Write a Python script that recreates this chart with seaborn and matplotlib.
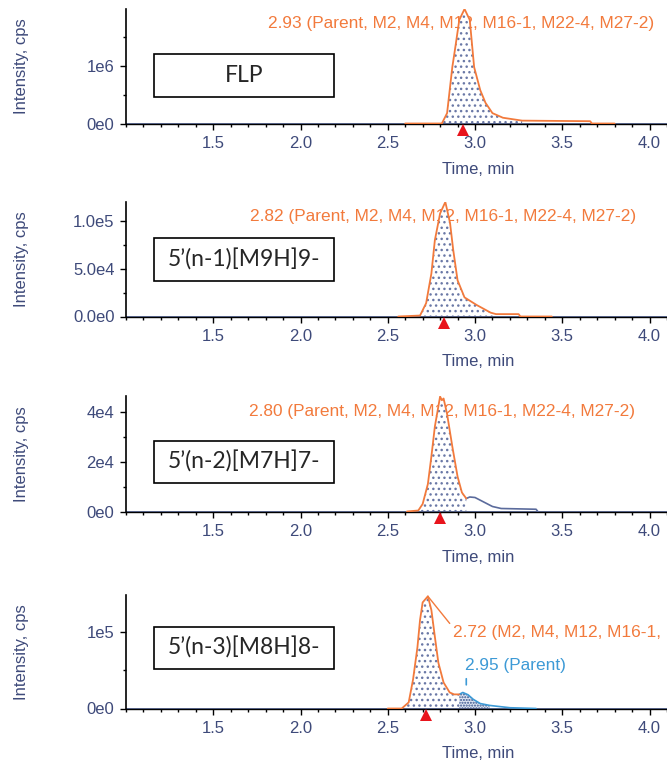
import matplotlib
matplotlib.use('Agg')
import matplotlib.pyplot as plt
import matplotlib.patches as mpatches
from matplotlib.ticker import MultipleLocator, FixedLocator
import numpy as np
import seaborn as sns

# labels and retention times
box_labels = ['FLP', '5\u2019(n-1)[M9H]9-', '5\u2019(n-2)[M7H]7-', '5\u2019(n-3)[M8H]8-']
peak_labels = ['2.93 (Parent, M2, M4, M12, M16-1, M22-4, M27-2)',
               '2.82 (Parent, M2, M4, M12, M16-1, M22-4, M27-2)',
               '2.80 (Parent, M2, M4, M12, M16-1, M22-4, M27-2)',
               '2.72 (M2, M4, M12, M16-1, M22-4, M27-2)']
peak_rt = [2.93, 2.82, 2.80, 2.72]
parent_label = '2.95 (Parent)'
parent_rt = 2.95

# FLP trace (cps)
flp_t = [2.60, 2.81, 2.84, 2.87, 2.885, 2.91, 2.94, 2.97, 2.995, 3.03, 3.06, 3.10, 3.16, 3.27, 3.66, 3.67, 3.80]
flp_i = [0, 0, 180000, 980000, 1280000, 1800000, 1990000, 1800000, 980000, 580000, 360000, 180000, 100000, 50000, 40000, 0, 0]

# 5'(n-1) trace
n1_t = [2.56, 2.685, 2.72, 2.75, 2.77, 2.80, 2.83, 2.857, 2.875, 2.90, 2.94, 3.01, 3.09, 3.12, 3.25, 3.26, 3.27, 3.44]
n1_i = [0, 1000, 14000, 45000, 80000, 108000, 120000, 98000, 70000, 38000, 20000, 12000, 4000, 2500, 2500, 0, 0, 0]

# 5'(n-2) trace, main peak and trailing part
n2_t = [2.61, 2.675, 2.70, 2.73, 2.75, 2.77, 2.79, 2.80, 2.81, 2.82, 2.84, 2.87, 2.90, 2.925, 2.95]
n2_i = [0, 400, 3000, 11000, 22000, 34000, 42000, 46000, 44500, 45200, 39000, 26000, 14000, 7600, 5200]
n2_tail_t = [2.95, 2.97, 3.00, 3.05, 3.10, 3.15, 3.35, 3.36]
n2_tail_i = [5200, 5800, 5600, 3800, 2000, 1200, 900, 0]

# 5'(n-3) trace, metabolite peak and parent peak
n3_t = [2.50, 2.58, 2.62, 2.645, 2.67, 2.685, 2.70, 2.73, 2.75, 2.77, 2.79, 2.82, 2.855, 2.88, 2.91]
n3_i = [0, 0, 8000, 38000, 80000, 116000, 139000, 147000, 129000, 94000, 60000, 34000, 21000, 18500, 18500]
par_t = [2.91, 2.93, 2.96, 2.99, 3.03, 3.085, 3.20, 3.35]
par_i = [18500, 21000, 18000, 12000, 6500, 4000, 1000, 0]

fill_windows = [(2.81, 3.27), (2.685, 3.12), (2.675, 2.95), (2.58, 2.91)]
parent_window = (2.91, 3.10)

y_major = [[0, 1e6], [0, 5e4, 1e5], [0, 2e4, 4e4], [0, 1e5]]
y_ticklabels = [['0e0', '1e6'], ['0.0e0', '5.0e4', '1.0e5'], ['0e0', '2e4', '4e4'], ['0e0', '1e5']]
y_minor = [[5e5, 1.5e6], [2.5e4, 7.5e4], [1e4, 3e4], [5e4]]
y_top = [1.99e6, 1.2e5, 4.62e4, 1.487e5]

sns.set_style('ticks')
plt.rcParams['font.family'] = ['Liberation Sans', 'DejaVu Sans']
plt.rcParams['hatch.linewidth'] = 1.0

ORANGE = '#f27a3c'
NAVY = '#3e4a7a'
DOTS = '#6a78a6'
GRAYBLUE = '#5b6b9c'
BLUE = '#3d9ad6'

W, H = 667, 763
fig = plt.figure(figsize=(W / 100, H / 100), dpi=100)

# axes rectangles in pixels: left, top, right, bottom
rects = [(126, 9, 667, 123.5), (126, 202, 667, 316.5), (126, 396, 667, 511.5), (126, 595, 667, 708.5)]
boxes = [(154, 54, 334, 97), (154, 238, 334, 281), (154, 441, 334, 483), (154, 627, 334, 669)]
label_x = [268, 250, 249]

traces = [(flp_t, flp_i), (n1_t, n1_i), (n2_t, n2_i), (n3_t, n3_i)]

for k in range(4):
    l, t, r, b = rects[k]
    ax = fig.add_axes([l / W, 1 - b / H, (r - l) / W, (b - t) / H])
    aw, ah = r - l, b - t

    ax.axhline(0, color=GRAYBLUE, lw=1.3, zorder=2)

    tt, ii = np.array(traces[k][0]), np.array(traces[k][1])
    a0, a1 = fill_windows[k]
    m = (tt >= a0 - 1e-9) & (tt <= a1 + 1e-9)
    ax.fill_between(tt[m], ii[m], 0, facecolor='white', edgecolor=DOTS, hatch='...', lw=0, zorder=1)

    # annotation text (sits under the trace)
    if k < 3:
        ax.text((label_x[k] - l) / aw, 0.87, peak_labels[k], color=ORANGE, fontsize=12.4,
                ha='left', va='center', transform=ax.transAxes, zorder=0)

    if k == 2:
        sns.lineplot(x=n2_tail_t, y=n2_tail_i, ax=ax, color=GRAYBLUE, lw=1.2, estimator=None, sort=False, zorder=3)
    if k == 3:
        pt, pi = np.array(par_t), np.array(par_i)
        pm = (pt >= parent_window[0] - 1e-9) & (pt <= parent_window[1] + 1e-9)
        ax.fill_between(pt[pm], pi[pm], 0, facecolor='#dfe6f2', edgecolor='#34508a', hatch='......', lw=0, zorder=1)
        sns.lineplot(x=par_t, y=par_i, ax=ax, color=BLUE, lw=1.2, estimator=None, sort=False, zorder=3)
        pk = int(np.argmax(n3_i))
        ax.annotate(peak_labels[3], xy=(n3_t[pk], n3_i[pk]), xytext=((453 - l) / aw, 0.674),
                    textcoords='axes fraction', color=ORANGE, fontsize=12.4, ha='left', va='center',
                    arrowprops=dict(arrowstyle='-', color=ORANGE, lw=1, shrinkA=0, shrinkB=0,
                                    relpos=(0, 0.8)),
                    annotation_clip=False)
        ax.text((465 - l) / aw, 0.383, parent_label, color=BLUE, fontsize=12.4, ha='left', va='center',
                transform=ax.transAxes)
        ax.annotate('', xy=(parent_rt, max(par_i) + 10000), xytext=(parent_rt, max(par_i) + 18000),
                    arrowprops=dict(arrowstyle='-', color=BLUE, lw=1.2, shrinkA=0, shrinkB=0))

    sns.lineplot(x=traces[k][0], y=traces[k][1], ax=ax, color=ORANGE, lw=1.3, estimator=None, sort=False, zorder=4)

    # retention marker
    ax.plot([peak_rt[k]], [-6 / ah], marker='^', color='#e8141c', ms=8.5, mew=0,
            transform=ax.get_xaxis_transform(), clip_on=False, zorder=6)

    ax.set_xlim(1.0, 1.0 + aw / 174.5)
    ax.set_ylim(0, y_top[k])
    ax.xaxis.set_major_locator(FixedLocator([1.5, 2.0, 2.5, 3.0, 3.5, 4.0]))
    ax.xaxis.set_minor_locator(MultipleLocator(0.1))
    ax.set_xticklabels(['1.5', '2.0', '2.5', '3.0', '3.5', '4.0'])
    ax.set_yticks(y_major[k])
    ax.set_yticklabels(y_ticklabels[k])
    ax.yaxis.set_minor_locator(FixedLocator(y_minor[k]))
    ax.tick_params(axis='both', which='major', length=4.3, width=1, color='black',
                   labelsize=12, labelcolor=NAVY)
    ax.tick_params(axis='x', which='major', pad=4.5)
    ax.tick_params(axis='y', which='major', pad=4)
    ax.tick_params(axis='both', which='minor', length=2.2, width=1, color='black')
    for s in ['top', 'right']:
        ax.spines[s].set_visible(False)
    ax.spines['left'].set_color('black')
    ax.spines['left'].set_linewidth(1.2)
    ax.spines['bottom'].set_color('black')
    ax.spines['bottom'].set_linewidth(1.0)

    ax.set_xlabel('Time, min', fontsize=12, color=NAVY)
    ax.xaxis.set_label_coords((478 - l) / aw, -45.5 / ah)
    ax.xaxis.label.set_va('center')
    ax.set_ylabel('Intensity, cps', fontsize=12, color=NAVY)
    ax.yaxis.set_label_coords((21 - l) / aw, 0.5)
    ax.yaxis.label.set_va('center')

    bl, bt, br, bb = boxes[k]
    ax.add_patch(mpatches.Rectangle(((bl - l) / aw, (b - bb) / ah), (br - bl) / aw, (bb - bt) / ah,
                                    transform=ax.transAxes, facecolor='white', edgecolor='black',
                                    lw=1.2, zorder=5, clip_on=False))
    ax.text(((bl + br) / 2 - l) / aw, (b - (bt + bb) / 2) / ah, box_labels[k], fontsize=16.5,
            family=['Lato', 'DejaVu Sans'], ha='center', va='center', transform=ax.transAxes, zorder=6)

fig.savefig('out.png', dpi=100)
